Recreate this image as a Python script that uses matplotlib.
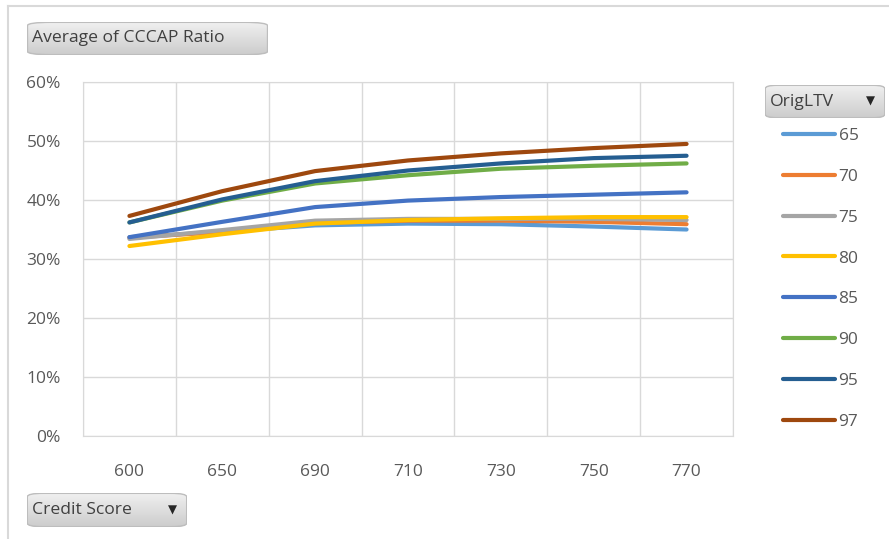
import numpy as np
import matplotlib
matplotlib.use('Agg')
import matplotlib.pyplot as plt
from matplotlib.patches import FancyBboxPatch
from matplotlib.lines import Line2D

# Data
credit_scores = ['600', '650', '690', '710', '730', '750', '770']
ltv_labels = ['65', '70', '75', '80', '85', '90', '95', '97']
ratio_65 = [33.7, 34.6, 35.7, 36.0, 35.9, 35.5, 35.0]
ratio_70 = [33.6, 34.6, 36.1, 36.5, 36.5, 36.3, 35.9]
ratio_75 = [33.4, 34.9, 36.5, 36.8, 36.8, 36.8, 36.6]
ratio_80 = [32.2, 34.2, 36.0, 36.6, 36.9, 37.1, 37.1]
ratio_85 = [33.7, 36.3, 38.8, 39.9, 40.5, 40.9, 41.3]
ratio_90 = [36.2, 39.9, 42.8, 44.2, 45.3, 45.8, 46.2]
ratio_95 = [36.2, 40.1, 43.2, 45.0, 46.2, 47.1, 47.5]
ratio_97 = [37.3, 41.5, 44.9, 46.7, 47.9, 48.8, 49.5]
series = [ratio_65, ratio_70, ratio_75, ratio_80, ratio_85, ratio_90, ratio_95, ratio_97]
colors = ['#5B9BD5', '#ED7D31', '#A5A5A5', '#FFC000', '#4472C4', '#70AD47', '#255E91', '#9E480E']

plt.rcParams['font.family'] = ['Open Sans', 'DejaVu Sans']
text_color = '#595959'
grid_color = '#d9d9d9'

fig = plt.figure(figsize=(8.89, 5.39), dpi=100)
ax = fig.add_axes([83 / 889, 1 - 436 / 539, 650 / 889, 354 / 539])

x = np.arange(len(credit_scores))
for vals, col in zip(series, colors):
    ax.plot(x, vals, color=col, linewidth=3, solid_capstyle='round', solid_joinstyle='round')

ax.set_xlim(-0.5, len(credit_scores) - 0.5)
ax.set_ylim(0, 60)
ax.set_yticks(np.arange(0, 61, 10))
ax.set_yticklabels([f'{v}%' for v in range(0, 61, 10)])
ax.set_xticks(x)
ax.set_xticklabels(credit_scores)
ax.set_xticks(np.arange(-0.5, len(credit_scores)), minor=True)
ax.grid(axis='y', which='major', color=grid_color, linewidth=1)
ax.grid(axis='x', which='minor', color=grid_color, linewidth=1)
ax.set_axisbelow(True)
ax.tick_params(which='both', length=0, labelsize=12.5, labelcolor=text_color)
ax.tick_params(axis='x', pad=20)
ax.tick_params(axis='y', pad=16)
for s in ax.spines.values():
    s.set_color(grid_color)

# outer frame lines (top and left)
fig.add_artist(Line2D([8 / 889, 1], [1 - 6 / 539, 1 - 6 / 539], color=grid_color, linewidth=1.5))
fig.add_artist(Line2D([8 / 889, 8 / 889], [0, 1 - 6 / 539], color=grid_color, linewidth=1.5))


def button(x0, y0, x1, y1, label, arrow=False):
    # pixel coords (top-left origin) -> figure fraction
    fx, fy = x0 / 889, 1 - y1 / 539
    fw, fh = (x1 - x0) / 889, (y1 - y0) / 539
    gax = fig.add_axes([fx, fy, fw, fh], zorder=6)
    grad = np.linspace(0.94, 0.80, 50).reshape(-1, 1)
    gax.imshow(np.dstack([grad, grad, grad]), aspect='auto', extent=[0, 1, 0, 1])
    gax.set_axis_off()
    gax.images[0].set_clip_path(FancyBboxPatch((0, 0), 1, 1, boxstyle='round,pad=0,rounding_size=0.1',
                                               transform=gax.transAxes, facecolor='none'))
    gax.add_patch(FancyBboxPatch((0.002, 0.01), 0.996, 0.98, boxstyle='round,pad=0,rounding_size=0.1',
                                 transform=gax.transAxes, facecolor='none', edgecolor='#bdbdbd',
                                 linewidth=1))
    gax.text(5 / (x1 - x0), 0.5, label, ha='left', va='center', fontsize=12.6, color='#404040')
    if arrow:
        gax.text(1 - 15 / (x1 - x0), 0.5, '\u25bc', ha='center', va='center', fontsize=8.5,
                 color='#262626', family='DejaVu Sans')


button(27, 22, 268, 55, 'Average of CCCAP Ratio')
button(27, 493, 187, 527, 'Credit Score', arrow=True)
button(765, 85, 885, 118, 'OrigLTV', arrow=True)

# legend
handles = [Line2D([0], [0], color=c, linewidth=3, solid_capstyle='round') for c in colors]
fig.legend(handles, ltv_labels, loc='upper left', bbox_to_anchor=(783 / 889, 1 - 128 / 539),
           frameon=False, fontsize=12.5, labelcolor=text_color, handlelength=3.0,
           handletextpad=0.2, labelspacing=1.42, borderaxespad=0, borderpad=0)

plt.savefig('out.png', dpi=100, facecolor='white')
